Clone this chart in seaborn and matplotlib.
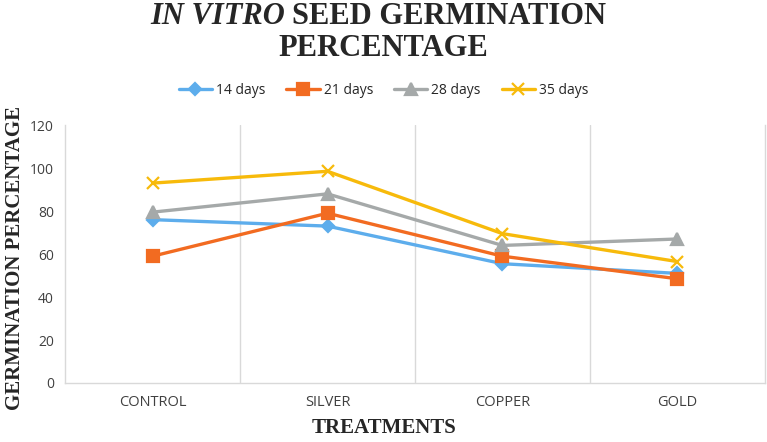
import matplotlib
matplotlib.use('Agg')
import matplotlib.pyplot as plt
import seaborn as sns
import pandas as pd

# chart data
treatments = ['CONTROL', 'SILVER', 'COPPER', 'GOLD']
series_names = ['14 days', '21 days', '28 days', '35 days']
days_14 = [76, 73, 55.5, 51]
days_21 = [59, 79, 59, 48.5]
days_28 = [79.5, 88, 64, 67]
days_35 = [93, 98.5, 69.5, 56.5]
y_ticks = [0, 20, 40, 60, 80, 100, 120]

colors = ['#5DADEC', '#F26B21', '#A5A9A9', '#F7BA0B']
markers = ['D', 's', '^', 'x']
msizes = [6.5, 8.5, 8.5, 8.5]

sns.set_style('white')
plt.rcParams['font.family'] = ['Open Sans', 'DejaVu Sans']

fig = plt.figure(figsize=(7.67, 4.42), dpi=100)
ax = fig.add_axes([0.085, 0.1335, 0.912, 0.5835])

for name, vals, c, m, ms in zip(series_names, [days_14, days_21, days_28, days_35],
                                colors, markers, msizes):
    df = pd.DataFrame({'treatment': treatments, 'value': vals})
    sns.lineplot(data=df, x='treatment', y='value', sort=False, color=c,
                 marker=m, markersize=ms, markeredgecolor=c, markeredgewidth=1.6,
                 linewidth=2.4, label=name, ax=ax)

ax.set_xlim(-0.5, 3.5)
ax.set_ylim(0, 120)
ax.set_yticks(y_ticks)
ax.tick_params(axis='both', length=0, colors='#404040')
ax.tick_params(axis='y', labelsize=10, pad=8)
ax.tick_params(axis='x', labelsize=10.5, pad=9)
for xv in [0.5, 1.5, 2.5]:
    ax.axvline(xv, color='#D9D9D9', lw=1, zorder=0)
for side in ['left', 'bottom', 'right']:
    ax.spines[side].set_color('#D9D9D9')
    ax.spines[side].set_linewidth(1)
ax.spines['top'].set_visible(False)

ax.set_xlabel('')
ax.set_ylabel('')
fig.text(0.5, 0.032, 'TREATMENTS', ha='center', va='center', fontsize=15,
         fontweight='bold', family='Liberation Serif')
fig.text(0.02, 0.416, 'GERMINATION PERCENTAGE', ha='center', va='center', rotation=90,
         fontsize=15, fontweight='bold', family='Liberation Serif')

# title with italic part
fig.text(0.372, 0.963, 'IN VITRO', ha='right', va='center', fontsize=22,
         fontweight='bold', style='italic', family='Liberation Serif')
fig.text(0.381, 0.963, 'SEED GERMINATION', ha='left', va='center', fontsize=22,
         fontweight='bold', family='Liberation Serif')
fig.text(0.5, 0.89, 'PERCENTAGE', ha='center', va='center', fontsize=22,
         fontweight='bold', family='Liberation Serif')

handles, labels = ax.get_legend_handles_labels()
ax.get_legend().remove()
fig.legend(handles, labels, loc='center', bbox_to_anchor=(0.5, 0.796), ncol=4,
           frameon=False, fontsize=10, handlelength=2.4, columnspacing=1.5,
           handletextpad=0.3)

fig.savefig('out.png', dpi=100)
